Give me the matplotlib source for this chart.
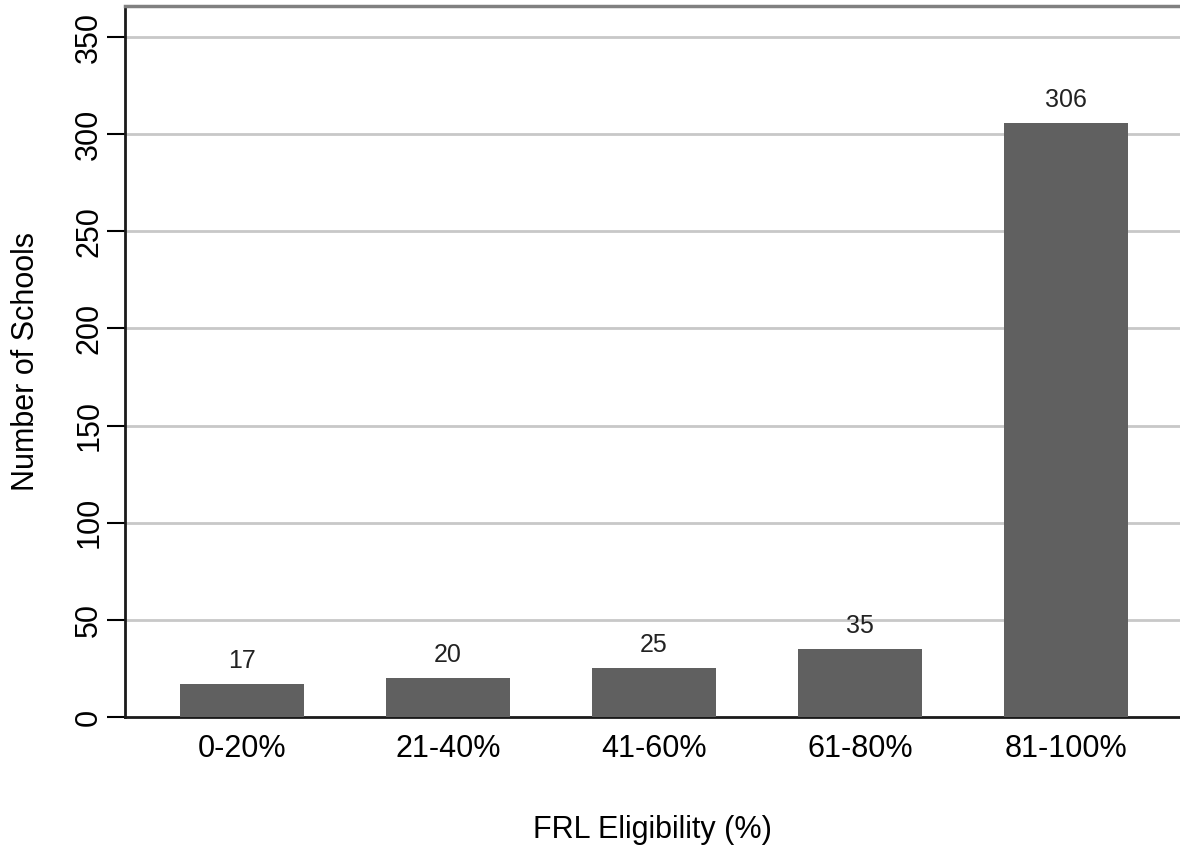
import matplotlib
matplotlib.use("Agg")
import matplotlib.pyplot as plt
import numpy as np

# data
categories = ["0-20%", "21-40%", "41-60%", "61-80%", "81-100%"]
counts = [17, 20, 25, 35, 306]
yticks = [0, 50, 100, 150, 200, 250, 300, 350]

plt.rcParams['font.family'] = ['Liberation Sans', 'DejaVu Sans']

fig = plt.figure(figsize=(11.8, 8.48), dpi=100)
ax = fig.add_axes([125 / 1180, 1 - 717 / 848, 1 - 125 / 1180, (717 - 6) / 848])

x = np.arange(len(categories))
bars = ax.bar(x, counts, width=0.6, color="#606060", zorder=3)

# value labels above the bars
for xi, v in zip(x, counts):
    ax.annotate(str(v), (xi, v), xytext=(0, 23), textcoords="offset pixels",
                ha="center", va="center", fontsize=18, color="#222222")

ax.set_xlim(-0.568, 4.553)
ax.set_ylim(0, 366)
ax.set_xticks(x)
ax.set_xticklabels(categories, fontsize=22)
ax.set_yticks(yticks)
ax.set_yticklabels([str(t) for t in yticks], fontsize=22, rotation=90, va="center")

# grid at every tick but zero
for t in yticks[1:]:
    ax.axhline(t, color="#c8c8c8", lw=2, zorder=1)

ax.tick_params(axis="x", length=0, pad=12)
ax.tick_params(axis="y", length=13, width=1.5, pad=2)

ax.spines["right"].set_visible(False)
ax.spines["top"].set_color("#808080")
ax.spines["top"].set_linewidth(2.5)
ax.spines["left"].set_linewidth(2)
ax.spines["bottom"].set_linewidth(2)
ax.spines["left"].set_color("#1a1a1a")
ax.spines["bottom"].set_color("#1a1a1a")

ax.set_xlabel("FRL Eligibility (%)", fontsize=22, labelpad=37)
ax.set_ylabel("Number of Schools", fontsize=22, labelpad=24)

fig.savefig("out.png", dpi=100)
